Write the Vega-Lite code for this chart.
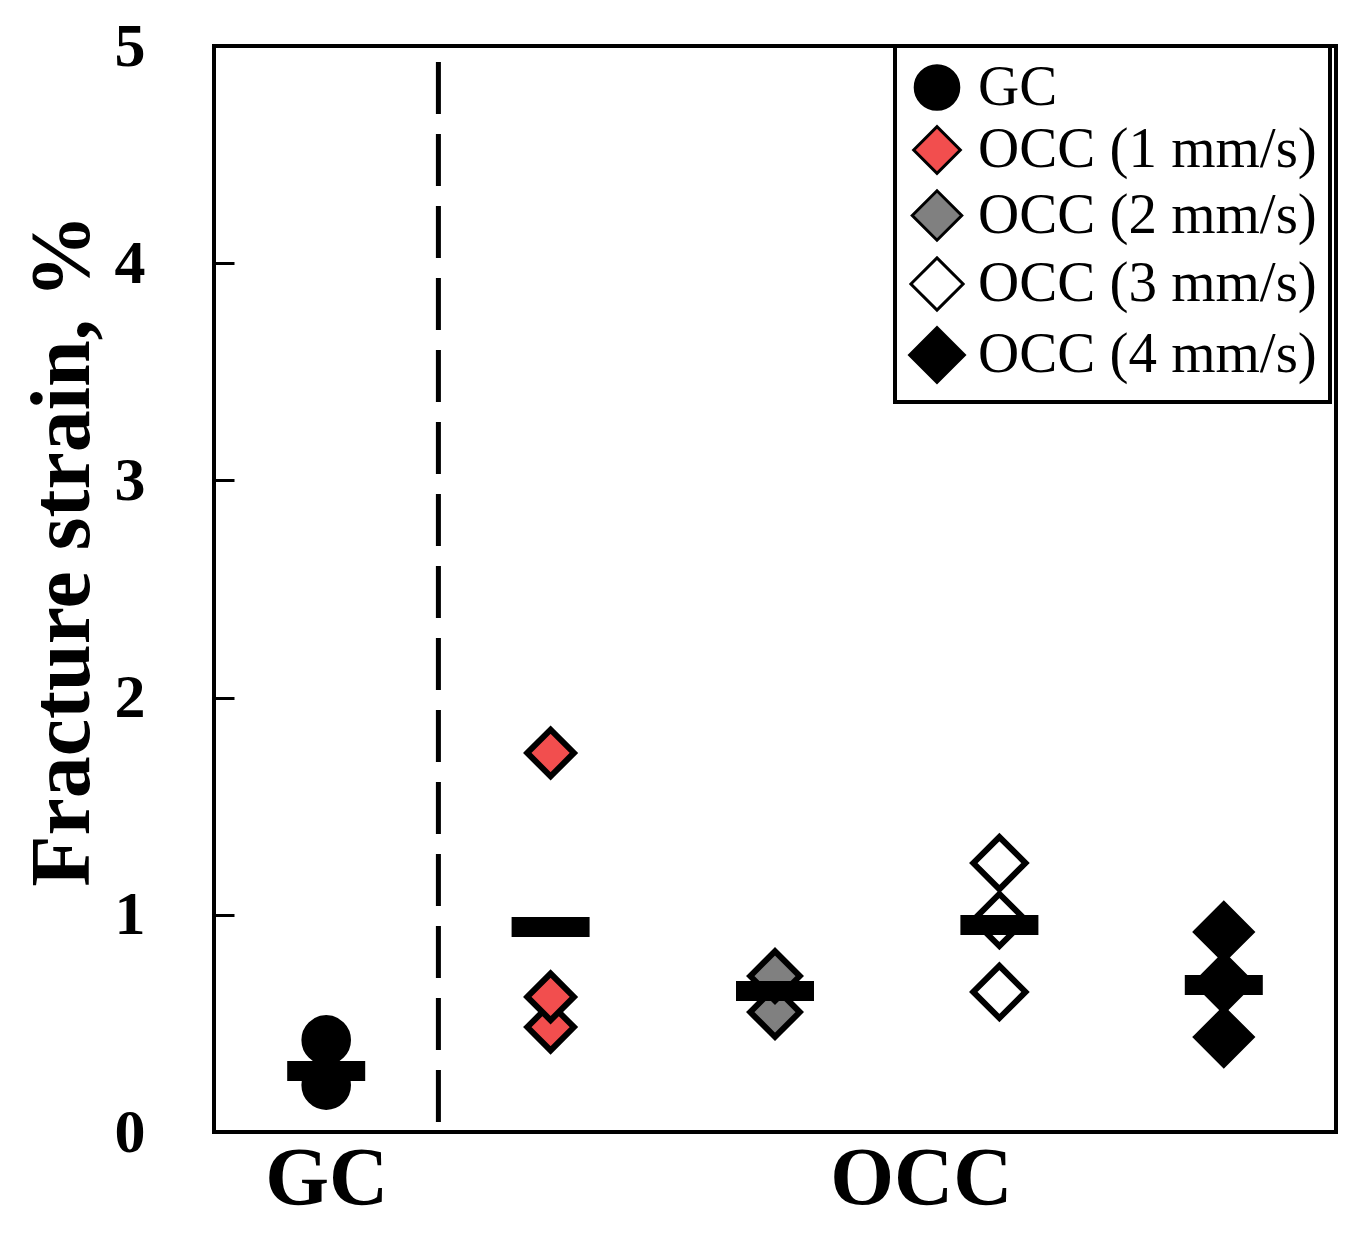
{
  "$schema": "https://vega.github.io/schema/vega-lite/v6.json",
  "width": 1122,
  "height": 1086,
  "autosize": {"type": "none"},
  "padding": {"left": 214, "top": 46, "right": 31, "bottom": 104},
  "background": "white",
  "config": {
    "view": {"stroke": "black", "strokeWidth": 4},
    "font": "Liberation Serif",
    "legend": {
      "orient": "none",
      "legendX": 681,
      "legendY": 0,
      "strokeColor": "black",
      "strokeWidth": 4,
      "fillColor": "white",
      "padding": 13,
      "labelFont": "Liberation Serif",
      "labelFontSize": 57,
      "labelFontWeight": "normal",
      "labelColor": "black",
      "labelLimit": 600,
      "labelOffset": 12,
      "rowPadding": 4.5,
      "symbolStrokeColor": "black",
      "symbolStrokeWidth": 3,
      "symbolOpacity": 1,
      "title": null
    }
  },
  "datasets": {
    "points": [
      {"group": "GC", "x": 1, "strain": 0.216},
      {"group": "GC", "x": 1, "strain": 0.424},
      {"group": "OCC (1 mm/s)", "x": 3, "strain": 0.483},
      {"group": "OCC (1 mm/s)", "x": 3, "strain": 0.622},
      {"group": "OCC (1 mm/s)", "x": 3, "strain": 1.745},
      {"group": "OCC (2 mm/s)", "x": 5, "strain": 0.552},
      {"group": "OCC (2 mm/s)", "x": 5, "strain": 0.718},
      {"group": "OCC (3 mm/s)", "x": 7, "strain": 0.645},
      {"group": "OCC (3 mm/s)", "x": 7, "strain": 0.976},
      {"group": "OCC (3 mm/s)", "x": 7, "strain": 1.238},
      {"group": "OCC (4 mm/s)", "x": 9, "strain": 0.437},
      {"group": "OCC (4 mm/s)", "x": 9, "strain": 0.686},
      {"group": "OCC (4 mm/s)", "x": 9, "strain": 0.921}
    ],
    "means": [
      {"group": "GC", "x": 1, "strain": 0.281},
      {"group": "OCC (1 mm/s)", "x": 3, "strain": 0.944},
      {"group": "OCC (2 mm/s)", "x": 5, "strain": 0.649},
      {"group": "OCC (3 mm/s)", "x": 7, "strain": 0.953},
      {"group": "OCC (4 mm/s)", "x": 9, "strain": 0.677}
    ],
    "divider": [
      {"x": 2, "y1": 0.046, "y2": 4.97}
    ]
  },
  "layer": [
    {
      "data": {"name": "divider"},
      "mark": {"type": "rule", "color": "black", "strokeWidth": 5, "strokeDash": [52, 20]},
      "encoding": {
        "x": {"field": "x", "type": "quantitative", "scale": {"domain": [0, 10]}},
        "y": {"field": "y1", "type": "quantitative", "scale": {"domain": [0, 5]}},
        "y2": {"field": "y2"}
      }
    },
    {
      "data": {"name": "points"},
      "mark": {"type": "point", "filled": true, "strokeWidth": 6, "opacity": 1},
      "encoding": {
        "x": {
          "field": "x", "type": "quantitative",
          "scale": {"domain": [0, 10]},
          "axis": {
            "values": [1, 6.3],
            "labelExpr": "datum.value < 3 ? 'GC' : 'OCC'",
            "ticks": false,
            "domain": false,
            "grid": false,
            "title": null,
            "labelFont": "Liberation Serif",
            "labelFontSize": 82,
            "labelFontWeight": "bold",
            "labelColor": "black",
            "labelLimit": 500,
            "labelPadding": 6
          }
        },
        "y": {
          "field": "strain", "type": "quantitative",
          "scale": {"domain": [0, 5]},
          "axis": {
            "values": [0, 1, 2, 3, 4, 5],
            "format": "d",
            "domain": false,
            "grid": false,
            "ticks": true,
            "tickSize": -20,
            "tickWidth": 3,
            "tickColor": "black",
            "labelFont": "Liberation Serif",
            "labelFontSize": 62,
            "labelFontWeight": "bold",
            "labelColor": "black",
            "labelPadding": 89,
            "title": "Fracture strain, %",
            "titleFont": "Liberation Serif",
            "titleFontSize": 84,
            "titleFontWeight": "bold",
            "titleColor": "black",
            "titleX": -126,
            "titleY": 504,
            "titleBaseline": "alphabetic",
            "titleAngle": -90
          }
        },
        "shape": {
          "field": "group", "type": "nominal",
          "scale": {
            "domain": ["GC", "OCC (1 mm/s)", "OCC (2 mm/s)", "OCC (3 mm/s)", "OCC (4 mm/s)"],
            "range": ["circle", "diamond", "diamond", "diamond", "diamond"]
          }
        },
        "fill": {
          "field": "group", "type": "nominal",
          "scale": {
            "domain": ["GC", "OCC (1 mm/s)", "OCC (2 mm/s)", "OCC (3 mm/s)", "OCC (4 mm/s)"],
            "range": ["black", "#f24e4e", "#808080", "white", "black"]
          }
        },
        "stroke": {
          "field": "group", "type": "nominal",
          "scale": {
            "domain": ["GC", "OCC (1 mm/s)", "OCC (2 mm/s)", "OCC (3 mm/s)", "OCC (4 mm/s)"],
            "range": ["black", "black", "black", "black", "black"]
          }
        },
        "size": {
          "field": "group", "type": "nominal",
          "scale": {
            "domain": ["GC", "OCC (1 mm/s)", "OCC (2 mm/s)", "OCC (3 mm/s)", "OCC (4 mm/s)"],
            "range": [1900, 3000, 3000, 3000, 3000]
          }
        }
      }
    },
    {
      "data": {"name": "means"},
      "mark": {"type": "tick", "orient": "horizontal", "color": "black", "size": 78, "thickness": 20, "opacity": 1},
      "encoding": {
        "x": {"field": "x", "type": "quantitative", "scale": {"domain": [0, 10]}},
        "y": {"field": "strain", "type": "quantitative", "scale": {"domain": [0, 5]}}
      }
    }
  ]
}
